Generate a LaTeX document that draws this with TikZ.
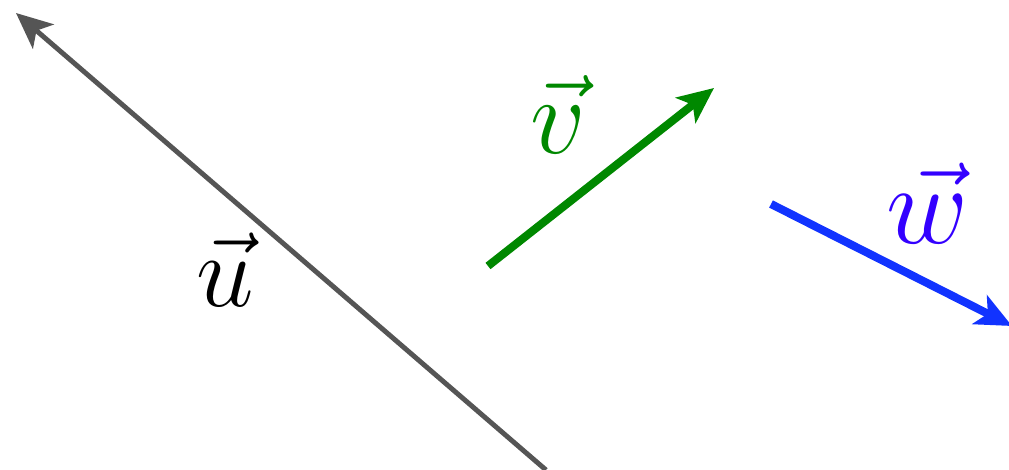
\documentclass[tikz,border=0pt]{standalone}
\usepackage{amsmath}
\usepackage{tikz}
\usetikzlibrary{arrows.meta}

\definecolor{vecgray}{RGB}{85,85,85}
\definecolor{vecgreen}{RGB}{0,136,0}
\definecolor{vecblue}{RGB}{17,51,255}
\definecolor{labblue}{RGB}{51,0,255}

\begin{document}
\begin{tikzpicture}[
    x=0.01cm, y=-0.01cm,
    vec/.style={-{Stealth[length=3.6mm,width=3.2mm,inset=0.9mm]}},
    lab/.style={inner sep=0pt, anchor=base west, font=\Huge}
]
\useasboundingbox (0,0) rectangle (1009,470);

\coordinate (u0) at (546,470);
\coordinate (u1) at (16,13);
\coordinate (v0) at (488,266);
\coordinate (v1) at (714,88);
\coordinate (w0) at (771,204);
\coordinate (w1) at (1012,326);

\draw[vec, vecgray, line width=1.4pt] (u0) -- (u1);
\draw[vec, vecgreen, line width=2.3pt] (v0) -- (v1);
\draw[vec, vecblue, line width=2.3pt] (w0) -- (w1);

\node[lab, scale=1.18] (ulab) at (196,307) {$\vec{u}$};
\node[lab, scale=1.25, text=vecgreen] (vlab) at (530,153) {$\vec{v}$};
\node[lab, scale=1.29, text=labblue] (wlab) at (886,243) {$\vec{w}$};
\end{tikzpicture}
\end{document}
